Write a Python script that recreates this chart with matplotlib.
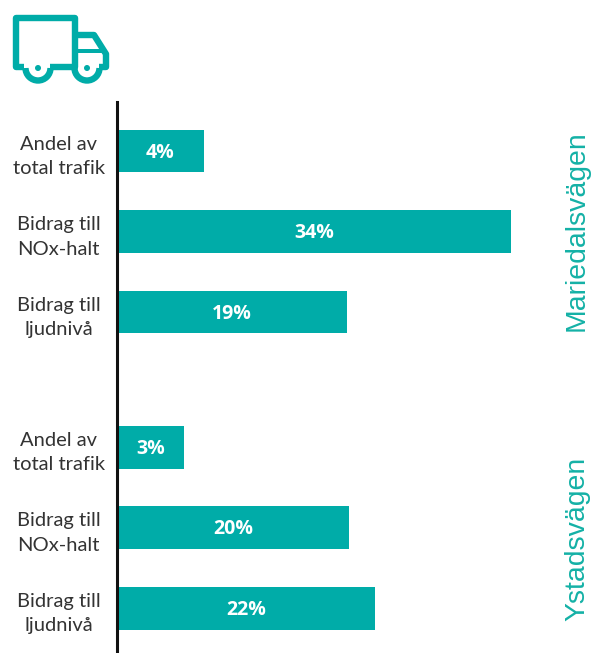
#!/usr/bin/env python3

import matplotlib
matplotlib.use('Agg')
import matplotlib.pyplot as plt
from matplotlib.patches import Circle, Arc, Polygon, Rectangle

# Labels and bar lengths as they are drawn (the short bars are longer than their %)
categories = ['Andel av\ntotal trafik', 'Bidrag till\nNOx-halt', 'Bidrag till\nljudnivå'] * 2
value_labels = ['4%', '34%', '19%', '3%', '20%', '22%']
bar_lengths = [7.5, 34.0, 19.8, 5.8, 20.0, 22.2]
groups = ['Mariedalsvägen', 'Ystadsvägen']

TEAL = '#00aca8'
TEXT = '#333333'
W, H = 597, 653

fig = plt.figure(figsize=(W / 100, H / 100), dpi=100)

# Axes for the bars
ax = fig.add_axes([117 / W, 0, (W - 117) / W, (H - 102) / H])
rows = [0, 1, 2, 3.68, 4.68, 5.68]
ax.barh(rows, bar_lengths, height=0.53, color=TEAL)
ax.set_xlim(0, (W - 117) / 11.6)
ax.set_ylim(6.236, -0.609)
for s in ['top', 'right', 'bottom']:
    ax.spines[s].set_visible(False)
ax.spines['left'].set_linewidth(2.2)
ax.spines['left'].set_color('#111111')
ax.set_xticks([])
ax.set_yticks(rows)
ax.set_yticklabels(categories, fontfamily='Lato', fontsize=14.5,
                   color=TEXT, ha='center', linespacing=1.55)
ax.tick_params(axis='y', length=0, pad=42)

for y, length, label in zip(rows, bar_lengths, value_labels):
    ax.text(length / 2, y + 0.02, label, color='white', ha='center', va='center',
            fontfamily='Open Sans', fontweight='bold', fontsize=14)

# Group names on the right side
fig.text(577 / W, 1 - 231 / H, groups[0], rotation=90, color='#14b1a6', ha='center', va='center',
         fontfamily='Liberation Sans', fontsize=20.4)
fig.text(577 / W, 1 - 539 / H, groups[1], rotation=90, color='#14b1a6', ha='center', va='center',
         fontfamily='Liberation Sans', fontsize=20.4)

# Truck icon, pixel coordinates
icon = fig.add_axes([0, 0, 1, 1], facecolor='none')
icon.set_xlim(0, W)
icon.set_ylim(H, 0)
icon.axis('off')
lw = 4.6
icon.add_patch(Polygon([(24, 67), (16, 67), (16, 18), (75, 18), (75, 67), (50, 67)],
                       closed=False, fill=False, ec=TEAL, lw=lw, joinstyle='round'))
icon.add_patch(Polygon([(75, 35), (94, 35), (106, 54), (106, 67), (99, 67)],
                       closed=False, fill=False, ec=TEAL, lw=lw, joinstyle='round'))
icon.add_patch(Rectangle((75, 49), 27, 4, color=TEAL, lw=0))
for cx in [38, 87]:
    icon.add_patch(Arc((cx, 68), 25, 25, theta1=0, theta2=180, ec=TEAL, lw=lw))
    icon.add_patch(Circle((cx, 68), 3, color=TEAL, lw=0))

fig.savefig('out.png', dpi=100, facecolor='white')
